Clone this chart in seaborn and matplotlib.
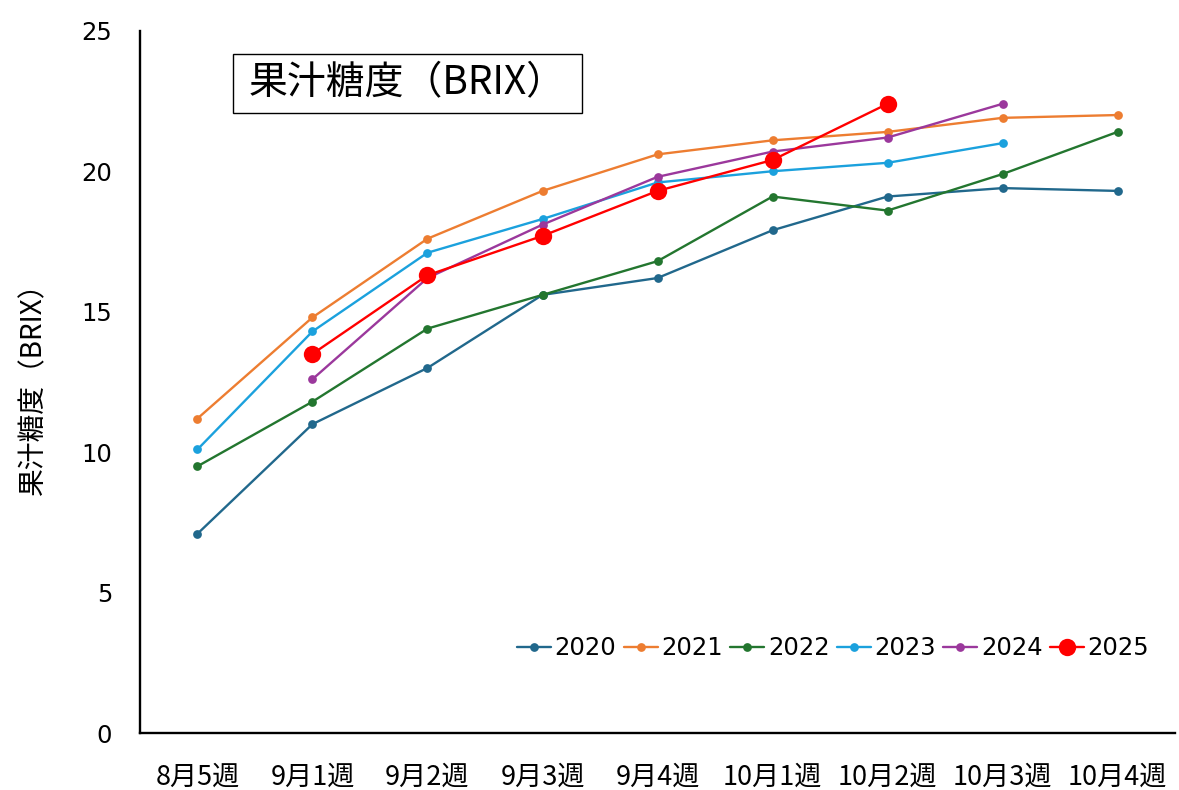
import numpy as np
import pandas as pd
import matplotlib
matplotlib.use("Agg")
import matplotlib.pyplot as plt
from matplotlib.patches import Rectangle
import seaborn as sns

# Survey weeks (category axis)
weeks = ["8月5週", "9月1週", "9月2週", "9月3週", "9月4週",
         "10月1週", "10月2週", "10月3週", "10月4週"]

# Juice sugar content (BRIX) by year
brix_2020 = [7.1, 11.0, 13.0, 15.6, 16.2, 17.9, 19.1, 19.4, 19.3]
brix_2021 = [11.2, 14.8, 17.6, 19.3, 20.6, 21.1, 21.4, 21.9, 22.0]
brix_2022 = [9.5, 11.8, 14.4, 15.6, 16.8, 19.1, 18.6, 19.9, 21.4]
brix_2023 = [10.1, 14.3, 17.1, 18.3, 19.6, 20.0, 20.3, 21.0, np.nan]
brix_2024 = [np.nan, 12.6, 16.2, 18.1, 19.8, 20.7, 21.2, 22.4, np.nan]
brix_2025 = [np.nan, 13.5, 16.3, 17.7, 19.3, 20.4, 22.4, np.nan, np.nan]

years = ["2020", "2021", "2022", "2023", "2024", "2025"]
series = [brix_2020, brix_2021, brix_2022, brix_2023, brix_2024, brix_2025]
colors = ["#21688C", "#ED7D31", "#23762F", "#1BA1DD", "#9B389C", "#FF0000"]

title_text = "果汁糖度（BRIX）"
ylabel_text = "果汁糖度（BRIX）"

sns.set_theme(style="white")
plt.rcParams["font.family"] = ["DejaVu Sans", "Noto Sans CJK JP"]
plt.rcParams.update({"text.color": "black", "axes.labelcolor": "black",
                     "xtick.color": "black", "ytick.color": "black"})

cjk = ["Noto Sans CJK JP", "DejaVu Sans"]

fig = plt.figure(figsize=(11.79, 7.90), dpi=100)
ax = fig.add_axes([0.1187, 0.0718, 0.878, 0.8893])

pos = np.arange(len(weeks))
for yr, vals, col in zip(years, series, colors):
    df = pd.DataFrame({"pos": pos, "brix": vals}).dropna()
    big = yr == "2025"
    sns.lineplot(data=df, x="pos", y="brix", ax=ax, color=col,
                 marker="o", markersize=12.5 if big else 6.3,
                 markeredgewidth=0, linewidth=1.7,
                 errorbar=None, sort=False, label=yr,
                 zorder=5 if big else 3)

ax.set_xlim(-0.5, len(weeks) - 0.5)
ax.set_ylim(0, 25)
ax.set_yticks([0, 5, 10, 15, 20, 25])
for t in ax.get_yticklabels():
    t.set_family("DejaVu Sans")

# tick marks sit between categories, labels at category centres
ax.set_xticks(np.arange(0.5, len(weeks) - 0.5, 1.0))
ax.set_xticklabels([])
ax.set_xticks(pos, minor=True)
ax.set_xticklabels(weeks, minor=True, fontsize=19.5, family=cjk)
ax.tick_params(axis="x", which="major", direction="in", length=7.5,
               width=1.5, color="black")
ax.tick_params(axis="x", which="minor", length=0, pad=22)
ax.tick_params(axis="y", direction="in", length=7, width=1.5,
               color="black", labelsize=17.5, pad=20)

for side in ["top", "right"]:
    ax.spines[side].set_visible(False)
for side in ["left", "bottom"]:
    ax.spines[side].set_color("black")
    ax.spines[side].set_linewidth(1.7)

ax.set_xlabel("")
ax.set_ylabel(ylabel_text, fontsize=20, labelpad=24, family=cjk)

# boxed chart title inside the plot area
ax.add_patch(Rectangle((0.0899, 0.8829), 0.3372, 0.084,
                       transform=ax.transAxes, fill=False,
                       edgecolor="black", linewidth=1.0, zorder=6))
ax.text(0.2585, 0.925, title_text, transform=ax.transAxes,
        ha="center", va="center", fontsize=28, family=cjk, zorder=7)

ax.legend(loc="center right", bbox_to_anchor=(0.975, 0.121), ncol=6,
          frameon=False, prop={"family": "DejaVu Sans", "size": 17.5},
          handlelength=1.4, handletextpad=0.15, columnspacing=0.3,
          borderpad=0, borderaxespad=0)

fig.savefig("out.png", dpi=100)
